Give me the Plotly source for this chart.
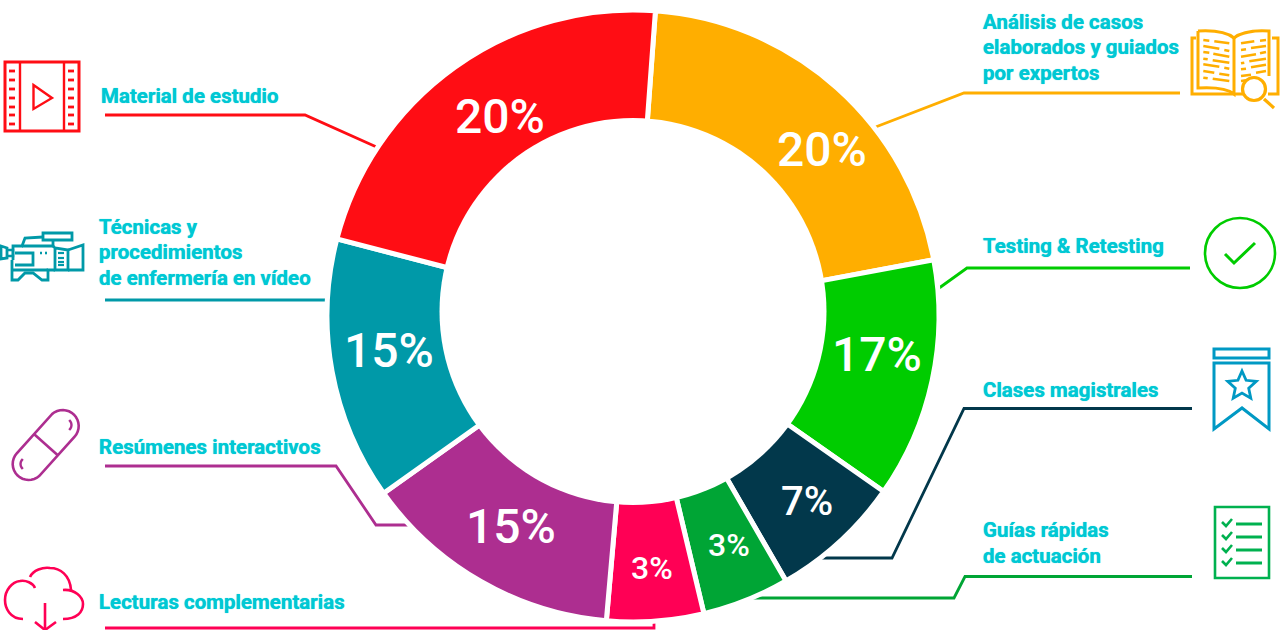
import math, re
import plotly.graph_objects as go

W, H = 1280, 630

# ---- data, clockwise from the top ----
categories = ["Análisis de casos elaborados y guiados por expertos", "Testing & Retesting",
              "Clases magistrales", "Guías rápidas de actuación", "Lecturas complementarias",
              "Resúmenes interactivos", "Técnicas y procedimientos de enfermería en vídeo",
              "Material de estudio"]
# angular share of each slice as drawn in the picture (degrees)
slice_sizes = [75.2, 45.6, 25, 16.6, 18.4, 49.6, 50, 79.6]
# the percentages printed on the slices
printed = ["20%", "17%", "7%", "3%", "3%", "15%", "15%", "20%"]
colors = ["#FFAE00", "#00CC00", "#02384B", "#00A535", "#FF0055", "#AD2E90", "#0099A8", "#FF0D14"]

pct_x = [822, 877, 807, 729, 652, 511, 389, 500]
pct_y = [149, 354, 502, 545, 568, 526, 350, 116]
pct_size = [48, 48, 40, 32, 32, 48, 48, 48]

text_lines = [
    (981, 22, "Análisis de casos"), (981, 47, "elaborados y guiados"), (981, 73, "por expertos"),
    (981, 246, "Testing & Retesting"), (981, 390, "Clases magistrales"),
    (981, 530, "Guías rápidas"), (981, 556, "de actuación"),
    (97, 602, "Lecturas complementarias"), (97, 447, "Resúmenes interactivos"),
    (97, 227, "Técnicas y"), (97, 252, "procedimientos"), (97, 278, "de enfermería en vídeo"),
    (99, 96, "Material de estudio"),
]
TEXT_COLOR = "#00C8D4"

leaders = [
    ("#FFAE00", "M1180 93 L964 93 L873 128"),
    ("#00CC00", "M1190 268 L967 268 L935 291"),
    ("#02384B", "M1192 408.5 L964 408.5 L892 558 L810 558"),
    ("#00A535", "M1192 576.5 L965 576.5 L954 598 L735 598"),
    ("#FF0055", "M105 628 L654 628 L654 612"),
    ("#AD2E90", "M105 466 L336 466 L376 525 L415 525"),
    ("#0099A8", "M105 300 L335 300"),
    ("#FF0D14", "M105 115 L305 115 L381 149"),
]

def arc(cx, cy, r, a0, a1, n=16):
    return [(cx + r * math.cos(math.radians(a0 + (a1 - a0) * i / n)),
             cy + r * math.sin(math.radians(a0 + (a1 - a0) * i / n))) for i in range(n + 1)]

def poly(pts, close=False):
    s = "M" + " L".join(f"{x:.1f} {y:.1f}" for x, y in pts)
    return s + (" Z" if close else "")

def star(cx, cy, R, r):
    pts = []
    for i in range(10):
        a = math.radians(-90 + 36 * i)
        q = R if i % 2 == 0 else r
        pts.append((cx + q * math.cos(a), cy + q * math.sin(a)))
    return poly(pts, True)

def to_paper(path):
    out, is_x = [], True
    for tok in re.findall(r"[A-Za-z]|-?\d+\.?\d*", path):
        if tok.isalpha():
            out.append(tok); is_x = True
        else:
            v = float(tok)
            out.append(f"{v / W:.5f}" if is_x else f"{1 - v / H:.5f}")
            is_x = not is_x
    s = ""
    for t in out:
        s += t if t.isalpha() else t + " "
    return s.strip()

shapes = []
def stroke(path, color, w=2.8, fill=None, layer="above"):
    shapes.append(dict(type="path", path=to_paper(path), xref="paper", yref="paper", layer=layer,
                       line=dict(color=color, width=w), fillcolor=fill or "rgba(0,0,0,0)"))

def circle(cx, cy, r, color, w=2.8, fill=None):
    shapes.append(dict(type="circle", xref="paper", yref="paper",
                       x0=(cx - r) / W, x1=(cx + r) / W, y0=1 - (cy + r) / H, y1=1 - (cy - r) / H,
                       line=dict(color=color, width=w), fillcolor=fill or "rgba(0,0,0,0)"))

for c, p in leaders:
    stroke(p, c, 2.8, layer="below")

# the hole of the ring sits slightly above the ring's centre
shapes.append(dict(type="circle", xref="paper", yref="paper", layer="above",
                   x0=(633 - 193.5) / W, x1=(633 + 193.5) / W,
                   y0=1 - (311.5 + 193.5) / H, y1=1 - (311.5 - 193.5) / H,
                   line=dict(width=0), fillcolor="#FFFFFF"))

# film icon
RED = "#FF0D14"
stroke("M5 62 L79 62 L79 131 L5 131 Z", RED, 3)
stroke("M20 62 L20 131", RED, 2.4); stroke("M64 62 L64 131", RED, 2.4)
for y in [71, 80, 89, 98, 107, 115, 124]:
    stroke(f"M9 {y} L15 {y}", RED, 2.8); stroke(f"M68 {y} L74 {y}", RED, 2.8)
stroke("M33.5 85 L52 98 L33.5 109 Z", RED, 2.4)

# camera icon
T = "#0099A8"
stroke("M43 233 L72 233 L72 240 L43 240 Z", T, 2.8)
stroke("M13 260 L13 246 L22 246 L25 238 L43 237", T, 2.8)
stroke("M22 246 L53 246 L53 241", T, 2.8)
stroke("M53 246 L55 248 L68 250 L68 270 L55 270 L55 248", T, 2.8)
stroke("M68 250 L83 245 L83 270 L68 270", T, 2.8)
stroke("M1 246 L7 248 L7 258 L1 259 Z", T, 2.8)
stroke("M7 250 L13 250 L13 256 L7 256", T, 2.4)
stroke("M15 253 L33 253 L33 265 L15 265", T, 2.8)
stroke("M12 260 L12 280 L18 280 L25 273 L33 273 L42 280 L48 280 L48 270 L55 270", T, 2.8)
stroke("M12 270 L48 270", T, 2.8)
for x in [40, 45]:
    stroke(f"M{x} 253 L{x + 2} 253", T, 2.6)
for y in [253, 258, 262, 265]:
    stroke(f"M58 {y} L64 {y}", T, 2.2)

# pill icon
P = "#AD2E90"
stroke(poly(arc(62.7, 426, 16, -132, 42) + arc(28.7, 464, 16, 48, 222), True), P, 2.6)
stroke("M34.5 434.5 L57.5 455", P, 2.6)
stroke(poly(arc(65, 425, 6.5, -50, 50, 6)), P, 2.4)
stroke(poly(arc(27, 464, 6.5, 130, 230, 6)), P, 2.4)

# cloud icon
K = "#FF0055"
stroke("M23 619 C10 619 5 608 5 600 C5 590 12 582 20 581 C26 580 33 583 35 588", K, 2.6)
stroke("M30 577 C33 570 43 567 50 568 C60 568 70 575 71 590", K, 2.6)
stroke("M63 590 C75 589 83 597 83 604 C83 612 77 619 63 619", K, 2.6)
stroke("M45 603 L45 630", K, 2.6)
stroke("M35 622 L45 630 L56 622", K, 2.6)

# book icon
O = "#FFAE00"
stroke("M1198 31 C1215 30 1228 33 1234 38 C1240 33 1253 30 1269 31 L1269 76", O, 3)
stroke("M1198 31 L1198 88 C1215 87 1228 89 1234 94 L1234 38", O, 3)
stroke("M1196 38 L1192 38 L1192 94 L1244 94", O, 3)
stroke("M1272 38 L1278 38 L1278 94 L1268 94", O, 3)
book_rows = [
    (52, 42, 70, 44), (85, 46, 130, 52), (52, 60, 100, 68), (115, 72, 130, 75),
    (52, 78, 70, 80), (82, 83, 130, 92), (52, 98, 65, 100), (80, 103, 130, 110),
    (52, 115, 100, 122), (115, 125, 130, 128), (52, 135, 85, 140), (100, 143, 130, 148),
    (52, 155, 65, 157), (80, 158, 130, 165),
    (165, 52, 205, 46), (222, 44, 240, 42), (165, 72, 180, 70), (195, 66, 240, 60),
    (165, 92, 210, 85), (222, 82, 240, 78), (165, 112, 175, 110), (190, 106, 240, 98),
    (165, 130, 180, 128), (195, 124, 240, 116), (165, 150, 195, 146), (210, 140, 240, 135),
    (165, 165, 180, 163),
]
for x0, y0, x1, y1 in book_rows:
    stroke(f"M{1186 + x0 / 3:.1f} {26 + y0 / 3:.1f} L{1186 + x1 / 3:.1f} {26 + y1 / 3:.1f}", O, 2.6)
circle(1254, 89, 11.5, O, 3.2, "#FFFFFF")
stroke("M1264 99 L1274 108", O, 3.2)

# check icon
G = "#00CC00"
circle(1240, 253, 35, G, 2.6)
stroke("M1225 254 L1234 263 L1255 243", G, 3)

# bookmark icon
B = "#0099C4"
stroke("M1214 349 L1269 349 L1269 358 L1214 358 Z", B, 3)
stroke("M1214 363 L1269 363 L1269 429 L1242 408 L1214 429 Z", B, 3)
stroke(star(1242, 386, 15, 7), B, 2.8)

# checklist icon
C = "#00B14F"
stroke("M1215 507 L1269 507 L1269 578 L1215 578 Z", C, 2.6)
for y in [524, 537, 550, 563]:
    stroke(f"M1222 {y - 2} L1226 {y + 2} L1232 {y - 5}", C, 2.6)
    stroke(f"M1236 {y} L1262 {y}", C, 3)

annotations = []
for x, y, t in text_lines:
    annotations.append(dict(x=x / W, y=1 - y / H, xref="paper", yref="paper", text=t, showarrow=False,
                            xanchor="left", yanchor="middle", align="left",
                            font=dict(family="Roboto", size=20.5, color=TEXT_COLOR, weight=700,
                                      shadow="0 0 0.8px #00C8D4")))
for x, y, s, t in zip(pct_x, pct_y, pct_size, printed):
    annotations.append(dict(x=x / W, y=1 - y / H, xref="paper", yref="paper", text=t, showarrow=False,
                            xanchor="center", yanchor="middle",
                            font=dict(family="Roboto", size=s, color="#FFFFFF", weight=500)))

fig = go.Figure(go.Pie(
    labels=categories, values=slice_sizes, sort=False, direction="clockwise", rotation=4.2,
    hole=0.58, textinfo="none", showlegend=False,
    marker=dict(colors=colors, line=dict(color="#FFFFFF", width=5)),
    domain=dict(x=[327 / W, 939 / W], y=[1 - 622 / H, 1 - 10 / H]),
))
fig.update_layout(width=W, height=H, margin=dict(l=0, r=0, t=0, b=0), paper_bgcolor="#FFFFFF",
                  shapes=shapes, annotations=annotations)
fig.write_html("out.html", config={"displayModeBar": False},
               post_script="document.body.style.margin='0';document.body.style.overflow='hidden';")
